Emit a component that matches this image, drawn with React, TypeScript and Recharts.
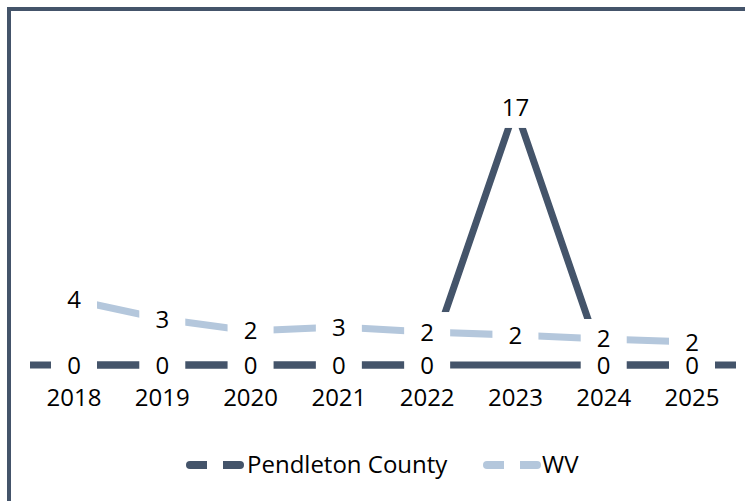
import { LineChart, Line, XAxis, YAxis, LabelList } from "recharts";

const years = ["2018", "2019", "2020", "2021", "2022", "2023", "2024", "2025"];
const pendleton = [0, 0, 0, 0, 0, 17, 0, 0];
const wv = [4.3, 3.04, 2.25, 2.51, 2.18, 1.98, 1.72, 1.52];

const DARK = "#44546a";
const LIGHT = "#b4c7dc";
const FONT = "'Open Sans', 'Liberation Sans', sans-serif";

const data = years.map((year, i) => ({ year, pendleton: pendleton[i], wv: wv[i] }));

/* eslint-disable @typescript-eslint/no-explicit-any */
function BoxLabel(props: any) {
  const { x, y, value, below = 20 } = props;
  if (x == null || y == null || value == null) return null;
  const txt = String(Math.round(Number(value)));
  const w = txt.length > 1 ? 56 : 46;
  return (
    <g>
      <rect x={x - w / 2} y={y - 20} width={w} height={20 + below} fill="#ffffff" />
      <text x={x} y={y + 8.5} textAnchor="middle" fontSize={24} fontFamily={FONT} fill="#000">
        {txt}
      </text>
    </g>
  );
}
/* eslint-enable @typescript-eslint/no-explicit-any */

function LegendKey({ left, color }: { left: number; color: string }) {
  return (
    <svg width={58} height={12} style={{ position: "absolute", left, top: 459 }}>
      <line x1={4} y1={6} x2={54} y2={6} stroke={color} strokeWidth={8} strokeLinecap="round" />
      <rect x={21} y={0} width={16} height={12} fill="#ffffff" />
    </svg>
  );
}

const legendText: React.CSSProperties = {
  position: "absolute",
  top: 452,
  fontFamily: FONT,
  fontSize: 24,
  lineHeight: "24px",
  color: "#000",
  whiteSpace: "nowrap",
};

export default function App() {
  return (
    <div style={{ position: "absolute", left: 0, top: 0, width: 745, height: 501, background: "#fff", overflow: "hidden" }}>
      {/* outer frame, only top and left edges are visible in the crop */}
      <div
        style={{
          position: "absolute", left: 7, top: 7, width: 760, height: 520,
          borderTop: `4px solid ${DARK}`, borderLeft: `4px solid ${DARK}`,
        }}
      />
      <div style={{ position: "absolute", left: 0, top: 0 }}>
        <LineChart width={745} height={501} data={data} margin={{ top: 52, right: 9, left: 30, bottom: 76 }}>
          <XAxis
            dataKey="year"
            height={60}
            padding={{ left: 44, right: 44 }}
            axisLine={{ stroke: DARK, strokeWidth: 7 }}
            tickLine={false}
            tickSize={0}
            tickMargin={24}
            tick={{ fill: "#000", fontSize: 24, fontFamily: FONT }}
          />
          <YAxis
            width={0}
            domain={[0, 20.7]}
            tick={false}
            tickLine={false}
            axisLine={{ stroke: DARK, strokeWidth: 6 }}
          />
          <Line
            dataKey="pendleton"
            name="Pendleton County"
            stroke={DARK}
            strokeWidth={7}
            dot={false}
            activeDot={false}
            isAnimationActive={false}
          >
            <LabelList dataKey="pendleton" content={<BoxLabel below={20} />} />
          </Line>
          <Line
            dataKey="wv"
            name="WV"
            stroke={LIGHT}
            strokeWidth={7}
            dot={false}
            activeDot={false}
            isAnimationActive={false}
          >
            <LabelList dataKey="wv" content={<BoxLabel below={13} />} />
          </Line>
        </LineChart>
      </div>
      {/* Legend */}
      <LegendKey left={186} color={DARK} />
      <div style={{ ...legendText, left: 247 }}>Pendleton County</div>
      <LegendKey left={483} color={LIGHT} />
      <div style={{ ...legendText, left: 542 }}>WV</div>
    </div>
  );
}
